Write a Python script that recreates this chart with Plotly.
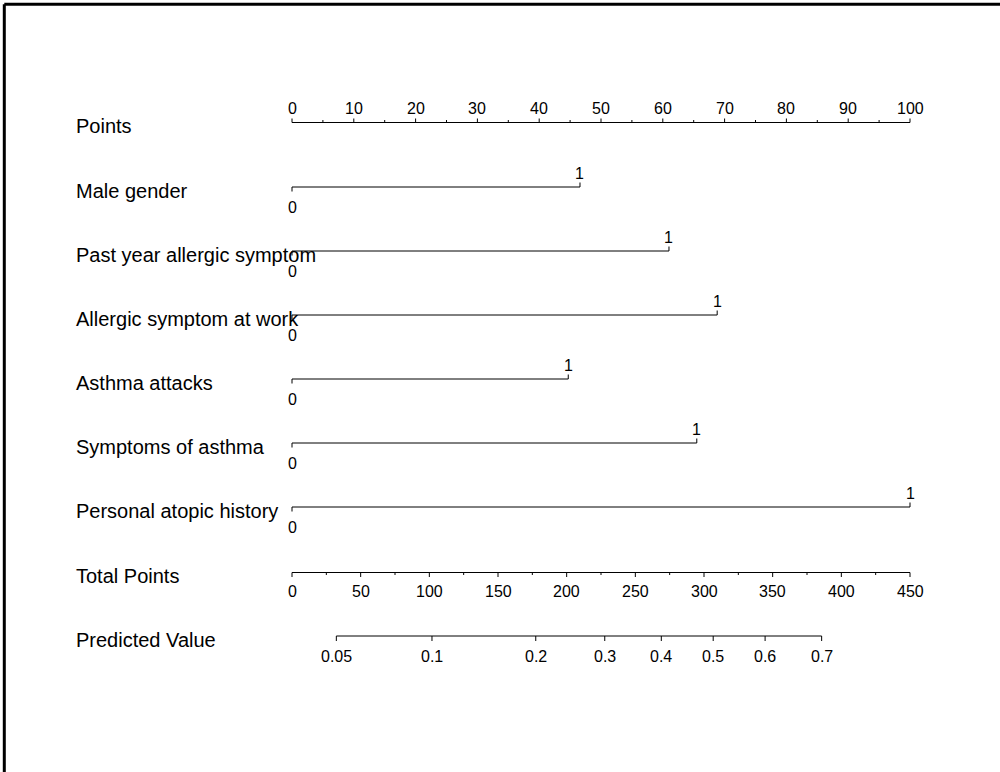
import plotly.graph_objects as go
import math

# ---------------- data ----------------
variables = ["Male gender", "Past year allergic symptom", "Allergic symptom at work",
             "Asthma attacks", "Symptoms of asthma", "Personal atopic history"]
var_points = [46.6, 61.0, 68.8, 44.7, 65.5, 100.0]   # points for level "1" (level "0" = 0)
level_labels = ["0", "1"]

points_ticks = [0, 10, 20, 30, 40, 50, 60, 70, 80, 90, 100]
points_minor = [5, 15, 25, 35, 45, 55, 65, 75, 85, 95]
total_ticks = [0, 50, 100, 150, 200, 250, 300, 350, 400, 450]
total_minor = [25, 75, 125, 175, 225, 275, 325, 375, 425]
total_max = 450
pred_ticks = [0.05, 0.1, 0.2, 0.3, 0.4, 0.5, 0.6, 0.7]
pred_labels = ["0.05", "0.1", "0.2", "0.3", "0.4", "0.5", "0.6", "0.7"]
tp_at_half = 306.7        # total points where predicted value = 0.5
points_per_logit = 93.2   # total points per unit of logit

# ---------------- layout constants ----------------
W, H = 1000, 772
X0_PX, X100_PX = 292, 910
ppx = (X100_PX - X0_PX) / 100.0
xr = [-X0_PX / ppx, (W - X0_PX) / ppx]

row_y = {"Points": 122.5}
for i, v in enumerate(variables):
    row_y[v] = 187 + 64 * i
row_y["Total Points"] = 572.5
row_y["Predicted Value"] = 636

LBL = dict(family="Liberation Sans, Arial, sans-serif", size=20, color="black")
TCK = dict(family="Liberation Sans, Arial, sans-serif", size=16, color="black")
LC = "black"

fig = go.Figure()
ann = []


def add_path(xs, ys, w=1):
    fig.add_trace(go.Scatter(x=xs, y=ys, mode="lines", line=dict(color=LC, width=w),
                             hoverinfo="skip", showlegend=False))


def ticks(xpos, y, length):
    xs, ys = [], []
    for x in xpos:
        xs += [x, x, None]
        ys += [y, y + length, None]
    return xs, ys


# Points axis
y = row_y["Points"]
add_path([0, 100], [y, y])
xs, ys = ticks(points_ticks, y, -4)
add_path(xs, ys)
xs, ys = ticks(points_minor, y, -2.5)
add_path(xs, ys)
for t in points_ticks:
    ann.append(dict(x=t, y=y - 14.5, text=str(t), font=TCK, xanchor="center", yanchor="middle"))

# Variables
for v, p in zip(variables, var_points):
    y = row_y[v]
    add_path([0, p], [y, y])
    add_path([0, 0, None, p, p], [y, y + 4.5, None, y, y - 4.5])
    ann.append(dict(x=0, y=y + 20, text=level_labels[0], font=TCK, xanchor="center", yanchor="middle"))
    ann.append(dict(x=p, y=y - 13.5, text=level_labels[1], font=TCK, xanchor="center", yanchor="middle"))

# Total points axis
y = row_y["Total Points"]
sc = 100.0 / total_max
add_path([0, 100], [y, y])
xs, ys = ticks([t * sc for t in total_ticks], y, 4.5)
add_path(xs, ys)
xs, ys = ticks([t * sc for t in total_minor], y, 2.5)
add_path(xs, ys)
for t in total_ticks:
    ann.append(dict(x=t * sc, y=y + 19, text=str(t), font=TCK, xanchor="center", yanchor="middle"))

# Predicted value axis
y = row_y["Predicted Value"]
pred_x = [(tp_at_half + points_per_logit * math.log(p / (1 - p))) * sc for p in pred_ticks]
add_path([pred_x[0], pred_x[-1]], [y, y])
xs, ys = ticks(pred_x, y, 5)
add_path(xs, ys)
for x, l in zip(pred_x, pred_labels):
    ann.append(dict(x=x, y=y + 20, text=l, font=TCK, xanchor="center", yanchor="middle"))

# Row labels
lbl_x = (74 - X0_PX) / ppx
for name in ["Points"] + variables + ["Total Points", "Predicted Value"]:
    ann.append(dict(x=lbl_x, y=row_y[name] + 3.5, text=name, font=LBL, xanchor="left", yanchor="middle"))

for a in ann:
    a["showarrow"] = False
    a["xref"] = "x"
    a["yref"] = "y"

# frame (top and left edges only visible)
shapes = [
    dict(type="line", xref="paper", yref="paper", x0=4.3 / W, x1=1, y0=1 - 4.3 / H, y1=1 - 4.3 / H,
         line=dict(color="black", width=3)),
    dict(type="line", xref="paper", yref="paper", x0=4.3 / W, x1=4.3 / W, y0=0, y1=1 - 4.3 / H,
         line=dict(color="black", width=3)),
]

fig.update_layout(
    width=W, height=H,
    margin=dict(l=0, r=0, t=0, b=0),
    paper_bgcolor="white", plot_bgcolor="white",
    xaxis=dict(range=xr, visible=False, fixedrange=True),
    yaxis=dict(range=[H, 0], visible=False, fixedrange=True),
    annotations=ann, shapes=shapes, showlegend=False,
)

fig.write_html("out.html", config={"displayModeBar": False},
               post_script="document.body.style.margin='0px';document.body.style.overflow='hidden';")
